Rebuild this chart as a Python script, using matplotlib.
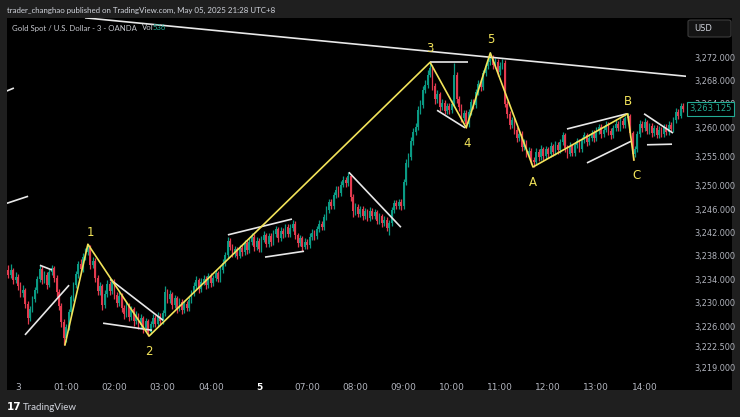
import matplotlib
matplotlib.use('Agg')
import matplotlib.pyplot as plt
import numpy as np
from matplotlib.patches import Rectangle, FancyBboxPatch
import matplotlib.transforms as mtransforms

# ---------------- data ----------------
first_open = 3235.6
closes = [
    3234.8, 3235.6, 3233.9, 3234.4, 3232.8, 3231.6, 3232.2, 3229.8, 3227.4, 3228.9,
    3230.6, 3232.1, 3234.0, 3235.8, 3233.9, 3234.8, 3233.1, 3235.2, 3236.0, 3234.3,
    3231.8, 3229.5, 3226.7, 3223.9, 3225.8, 3228.4, 3230.9, 3233.0, 3234.9, 3236.6,
    3235.8, 3237.9, 3238.7, 3239.4, 3236.5, 3237.2, 3234.3, 3232.0, 3232.8, 3229.6,
    3231.5, 3233.2, 3232.0, 3233.6, 3231.4, 3230.0, 3231.2, 3229.1, 3228.0, 3229.6,
    3227.6, 3228.9, 3226.8, 3227.9, 3226.2, 3227.4, 3225.6, 3226.8, 3225.0, 3226.3,
    3227.4, 3226.4, 3227.8, 3226.9, 3228.2, 3231.8, 3230.6, 3231.5, 3229.6, 3230.8,
    3229.0, 3230.2, 3228.7, 3229.8, 3229.1, 3230.4, 3231.6, 3232.8, 3233.9, 3232.4,
    3233.6, 3234.1, 3233.0, 3234.6, 3233.3, 3234.2, 3235.0, 3234.1, 3235.6, 3236.8,
    3238.1, 3240.6, 3239.6, 3238.4, 3239.1, 3238.0, 3239.3, 3238.6, 3240.2, 3239.0,
    3240.4, 3241.3, 3239.5, 3240.6, 3239.2, 3240.8, 3241.6, 3240.1, 3241.4, 3240.3,
    3241.8, 3242.6, 3241.0, 3242.3, 3241.7, 3242.9, 3241.8, 3242.8, 3243.5, 3241.5,
    3240.2, 3241.0, 3239.6, 3240.4, 3239.8, 3241.3, 3242.0, 3241.4, 3242.6, 3243.5,
    3243.0, 3244.6, 3245.9, 3247.2, 3246.6, 3248.4, 3249.3, 3248.7, 3250.2, 3251.0,
    3250.4, 3251.6, 3248.0, 3245.6, 3246.4, 3245.2, 3246.0, 3244.8, 3245.6, 3244.5,
    3245.7, 3244.9, 3245.5, 3244.0, 3244.8, 3243.6, 3244.2, 3242.8, 3243.6, 3245.8,
    3247.0, 3246.6, 3247.2, 3246.5, 3250.6, 3253.8, 3254.9, 3257.6, 3259.2, 3260.0,
    3262.9, 3263.8, 3266.4, 3267.2, 3269.0, 3270.2, 3267.0, 3264.8, 3265.6, 3263.4,
    3264.2, 3262.8, 3263.6, 3262.9, 3264.0, 3269.0, 3264.8, 3263.5, 3261.6, 3262.4,
    3260.6, 3262.6, 3264.3, 3263.8, 3266.0, 3267.4, 3266.8, 3269.2, 3270.4, 3271.2,
    3272.0, 3270.6, 3271.2, 3269.4, 3270.5, 3271.0, 3264.0, 3262.2, 3260.4, 3261.2,
    3259.5, 3258.2, 3258.9, 3256.6, 3257.4, 3255.6, 3256.0, 3254.4, 3254.0, 3255.8,
    3254.9, 3256.3, 3255.0, 3256.2, 3255.4, 3256.8, 3255.7, 3257.0, 3256.1, 3257.4,
    3258.6, 3256.4, 3255.5, 3256.8, 3255.6, 3256.9, 3257.6, 3256.3, 3257.8, 3258.6,
    3257.4, 3258.2, 3259.0, 3258.1, 3259.4, 3260.0, 3258.8, 3259.6, 3260.4, 3259.3,
    3258.6, 3259.8, 3260.6, 3259.9, 3261.0, 3260.4, 3261.5, 3262.0, 3259.0, 3255.5,
    3256.2, 3258.8, 3260.6, 3259.8, 3260.9, 3259.4, 3260.2, 3259.0, 3259.8, 3258.7,
    3259.6, 3258.9, 3260.0, 3259.2, 3260.4, 3259.7, 3261.2, 3262.6, 3262.0, 3263.6,
    3263.125,
]
highs = [
    3236.5, 3236.6, 3236.0, 3235.2, 3234.9, 3233.5, 3233.0, 3232.6, 3230.3, 3229.4,
    3231.2, 3232.7, 3234.6, 3236.5, 3236.2, 3235.4, 3235.2, 3235.8, 3236.5, 3236.3,
    3234.7, 3232.3, 3230.0, 3227.2, 3226.4, 3228.9, 3231.4, 3233.6, 3235.5, 3237.2,
    3237.4, 3238.5, 3239.3, 3240.0, 3239.8, 3237.9, 3237.6, 3234.8, 3233.5, 3233.2,
    3232.1, 3233.9, 3233.7, 3234.1, 3234.0, 3231.9, 3231.8, 3231.6, 3229.6, 3230.2,
    3230.0, 3229.5, 3229.3, 3228.5, 3228.3, 3228.0, 3227.8, 3227.4, 3227.2, 3226.9,
    3228.0, 3227.9, 3228.4, 3228.3, 3228.8, 3232.8, 3232.3, 3232.1, 3231.9, 3231.4,
    3231.2, 3230.8, 3230.6, 3230.4, 3230.3, 3231.0, 3232.2, 3233.5, 3234.5, 3234.3,
    3234.2, 3234.8, 3234.6, 3235.1, 3235.0, 3234.8, 3235.6, 3235.5, 3236.2, 3237.4,
    3238.6, 3241.3, 3241.1, 3240.1, 3239.7, 3239.6, 3239.9, 3239.8, 3240.8, 3240.7,
    3241.0, 3241.9, 3241.7, 3241.2, 3241.0, 3241.4, 3242.2, 3242.0, 3242.0, 3241.9,
    3242.4, 3243.2, 3243.0, 3242.9, 3242.8, 3243.5, 3243.4, 3243.4, 3244.2, 3243.9,
    3242.0, 3241.6, 3241.4, 3241.0, 3240.9, 3241.9, 3242.6, 3242.5, 3243.2, 3244.1,
    3244.0, 3245.2, 3246.5, 3247.8, 3247.8, 3249.0, 3249.9, 3249.9, 3250.8, 3251.6,
    3251.5, 3252.3, 3252.0, 3248.5, 3247.0, 3246.9, 3246.6, 3246.5, 3246.2, 3246.1,
    3246.3, 3246.2, 3246.1, 3245.9, 3245.4, 3245.2, 3244.8, 3244.6, 3244.2, 3246.3,
    3247.6, 3247.6, 3247.8, 3247.7, 3251.2, 3254.5, 3255.6, 3258.3, 3259.9, 3260.8,
    3263.6, 3264.6, 3267.1, 3268.0, 3269.8, 3271.1, 3270.7, 3267.5, 3266.3, 3266.0,
    3264.9, 3264.7, 3264.2, 3264.1, 3264.6, 3271.0, 3269.5, 3265.4, 3264.0, 3263.0,
    3262.9, 3263.2, 3264.9, 3264.9, 3266.6, 3268.0, 3268.0, 3269.8, 3271.0, 3271.8,
    3272.8, 3272.4, 3271.8, 3271.6, 3271.1, 3271.6, 3271.5, 3264.5, 3262.7, 3261.8,
    3261.6, 3260.0, 3259.5, 3259.3, 3258.0, 3257.8, 3256.6, 3256.4, 3254.9, 3256.4,
    3256.3, 3256.9, 3256.7, 3256.8, 3256.7, 3257.4, 3257.2, 3257.6, 3257.5, 3258.0,
    3259.2, 3259.0, 3256.9, 3257.4, 3257.2, 3257.5, 3258.2, 3258.0, 3258.4, 3259.2,
    3259.0, 3258.8, 3259.6, 3259.5, 3260.0, 3260.6, 3260.5, 3260.2, 3261.0, 3260.9,
    3259.8, 3260.4, 3261.2, 3261.1, 3261.6, 3261.5, 3262.0, 3262.4, 3262.3, 3259.4,
    3256.8, 3259.4, 3261.2, 3261.1, 3261.5, 3261.3, 3260.8, 3260.7, 3260.4, 3260.3,
    3260.2, 3260.1, 3260.6, 3260.5, 3261.0, 3260.9, 3261.8, 3263.3, 3263.2, 3264.2,
    3264.1,
]
lows = [
    3234.2, 3234.3, 3233.2, 3233.3, 3232.1, 3230.9, 3231.0, 3229.1, 3226.3, 3226.9,
    3228.4, 3230.1, 3231.6, 3233.6, 3233.2, 3233.4, 3232.4, 3232.7, 3234.7, 3233.6,
    3231.0, 3228.8, 3225.9, 3222.8, 3223.3, 3225.3, 3227.9, 3230.3, 3232.5, 3234.3,
    3235.1, 3235.3, 3237.3, 3238.1, 3235.8, 3236.0, 3233.6, 3231.3, 3231.4, 3228.8,
    3229.1, 3231.0, 3231.3, 3231.5, 3230.7, 3229.3, 3229.5, 3228.4, 3227.3, 3227.5,
    3226.9, 3227.1, 3226.1, 3226.3, 3225.5, 3225.7, 3224.9, 3225.1, 3224.3, 3224.6,
    3225.8, 3225.8, 3225.9, 3226.2, 3226.4, 3227.8, 3229.9, 3230.0, 3228.9, 3229.1,
    3228.3, 3228.5, 3228.1, 3228.2, 3228.5, 3228.6, 3229.9, 3231.1, 3232.3, 3231.7,
    3231.9, 3233.0, 3232.4, 3232.5, 3232.7, 3232.8, 3233.7, 3233.5, 3233.6, 3235.1,
    3236.3, 3237.7, 3239.0, 3237.8, 3237.9, 3237.5, 3237.6, 3238.0, 3238.1, 3238.4,
    3238.5, 3239.9, 3238.9, 3239.0, 3238.6, 3238.7, 3240.3, 3239.5, 3239.6, 3239.7,
    3239.8, 3241.3, 3240.4, 3240.5, 3241.1, 3241.2, 3241.2, 3241.3, 3242.3, 3240.9,
    3239.5, 3239.7, 3238.9, 3239.1, 3239.2, 3239.3, 3240.8, 3240.8, 3240.9, 3242.1,
    3242.4, 3242.5, 3244.1, 3245.4, 3246.0, 3246.1, 3247.9, 3248.1, 3248.2, 3249.7,
    3249.8, 3249.9, 3247.4, 3244.6, 3245.0, 3244.6, 3244.7, 3244.2, 3244.3, 3243.9,
    3244.0, 3244.3, 3244.3, 3243.4, 3243.5, 3243.0, 3243.1, 3242.2, 3241.6, 3243.2,
    3245.3, 3246.0, 3246.1, 3245.9, 3246.1, 3250.1, 3253.2, 3254.4, 3257.0, 3258.6,
    3259.5, 3262.3, 3263.3, 3265.8, 3266.7, 3268.5, 3266.3, 3264.0, 3264.2, 3262.7,
    3262.9, 3262.2, 3262.3, 3262.3, 3262.4, 3263.6, 3264.1, 3262.8, 3260.9, 3261.0,
    3259.8, 3260.1, 3262.1, 3263.2, 3263.3, 3265.5, 3266.2, 3266.3, 3268.7, 3269.9,
    3270.7, 3270.0, 3270.1, 3268.8, 3268.9, 3270.0, 3263.4, 3261.5, 3259.7, 3259.9,
    3258.8, 3257.5, 3257.7, 3255.9, 3256.1, 3254.9, 3255.1, 3253.7, 3253.2, 3253.6,
    3254.3, 3254.4, 3254.4, 3254.5, 3254.8, 3254.9, 3255.1, 3255.2, 3255.5, 3255.6,
    3256.9, 3255.7, 3254.8, 3255.0, 3255.0, 3255.1, 3256.4, 3255.7, 3255.8, 3257.3,
    3256.8, 3256.9, 3257.7, 3257.5, 3257.6, 3258.9, 3258.2, 3258.3, 3259.1, 3258.7,
    3258.0, 3258.1, 3259.3, 3259.3, 3259.4, 3259.8, 3259.9, 3261.0, 3258.4, 3254.4,
    3254.9, 3255.8, 3258.3, 3259.2, 3259.3, 3258.8, 3258.9, 3258.4, 3258.5, 3258.1,
    3258.2, 3258.3, 3258.4, 3258.6, 3258.7, 3259.1, 3259.2, 3260.7, 3261.4, 3261.5,
    3262.6,
]

# time axis: 3-minute bars, 20 bars per hour, first label sits on bar 4
time_labels = ['3', '01:00', '02:00', '03:00', '04:00', '5', '07:00', '08:00',
               '09:00', '10:00', '11:00', '12:00', '13:00', '14:00']
bars_per_hour = 20
first_label_bar = 4

price_ticks = [3219.0, 3222.5, 3226.0, 3230.0, 3234.0, 3238.0, 3242.0, 3246.0,
               3250.0, 3255.0, 3260.0, 3264.0, 3268.0, 3272.0]

# Elliott wave pivots (bar index, price)
wave_bars = [23.5, 33, 58.4, 175, 190, 200, 217.7, 257, 259.6]
wave_prices = [3222.8, 3240.0, 3224.3, 3271.1, 3259.9, 3272.7, 3253.2, 3262.3, 3254.4]
wave_names = ['', '1', '2', '3', '4', '5', 'A', 'B', 'C']
wave_label_offsets = [(0, 0), (1.5, 8.5), (0, -11), (0, 10), (1, -11), (0, 9.5), (0, -11), (0, 8.5), (1.5, -11.5)]

# white trend lines: (bar0, price0, bar1, price1)
white_lines = [
    (6.9, 3224.5, 25.2, 3233.0),
    (13.1, 3236.4, 18.1, 3235.6),
    (39.3, 3226.5, 59.6, 3225.3),
    (42.2, 3234.0, 64.2, 3227.0),
    (91.1, 3241.6, 117.7, 3244.3),
    (106.5, 3237.8, 122.7, 3238.8),
    (141.3, 3252.3, 162.9, 3242.9),
    (174.9, 3271.1, 190.7, 3271.1),
    (177.9, 3262.9, 189.5, 3259.9),
    (231.8, 3259.7, 256.7, 3262.3),
    (240.1, 3253.9, 258.4, 3257.6),
    (263.8, 3262.3, 275.8, 3259.0),
    (265.0, 3257.0, 275.4, 3257.1),
    (31.8, 3278.7, 281.5, 3268.7),
    (-0.6, 3266.2, 2.3, 3266.7),
    (-0.6, 3247.0, 8.2, 3248.2),
]

# ---------------- figure ----------------
W, H = 740, 417
fig = plt.figure(figsize=(W / 100, H / 100), dpi=100)
BG = '#1f1f1f'
fig.patch.set_facecolor(BG)

def fx(px):
    return px / W

def fy(py):
    return 1 - py / H

fig.patches.append(Rectangle((fx(7), fy(390)), fx(732) - fx(7), fy(18) - fy(390),
                             transform=fig.transFigure, facecolor='black',
                             edgecolor='none', zorder=-5))

ax = fig.add_axes([fx(7), fy(370), fx(686) - fx(7), fy(18) - fy(370)])
ax.set_zorder(2)
ax.set_facecolor('black')
for s in ax.spines.values():
    s.set_visible(False)

UP = '#0a9a84'
DN = '#e23a4e'

closes_a = np.array(closes)
opens_a = np.r_[first_open, closes_a[:-1]]
hi = np.maximum(np.array(highs), np.maximum(opens_a, closes_a))
lo = np.minimum(np.array(lows), np.minimum(opens_a, closes_a))
idx = np.arange(len(closes_a))
cols = np.where(closes_a >= opens_a, UP, DN)

ax.vlines(idx, lo, hi, colors=cols, linewidth=0.9, zorder=2)
body_bot = np.minimum(opens_a, closes_a)
body_h = np.maximum(np.abs(closes_a - opens_a), 0.12)
ax.bar(idx, body_h, bottom=body_bot, width=0.72, color=cols, linewidth=0, zorder=3)

# white lines
for b0, p0, b1, p1 in white_lines:
    ax.plot([b0, b1], [p0, p1], color='#e8e8e8', linewidth=1.2, zorder=4,
            solid_capstyle='butt')

# wave line
YEL = '#f2e35a'
ax.plot(wave_bars, wave_prices, color=YEL, linewidth=1.2, zorder=5)
for b, p, n, off in zip(wave_bars, wave_prices, wave_names, wave_label_offsets):
    if n:
        ax.annotate(n, xy=(b, p), xytext=off, textcoords='offset points',
                    ha='center', va='center', color=YEL, fontsize=8.5,
                    zorder=6)

ax.set_xlim(-0.56, 281.2)
ax.set_ylim(3218.5, 3278.67)

# axes ticks
ax.yaxis.tick_right()
ax.set_yticks(price_ticks)
ax.set_yticklabels([f"{v:,.3f}" for v in price_ticks])
ax.tick_params(axis='y', length=0, pad=6, labelsize=5.9, labelcolor='#b2b5be')
tpos = [first_label_bar + bars_per_hour * k for k in range(len(time_labels))]
ax.set_xticks(tpos)
ax.set_xticklabels(time_labels)
ax.tick_params(axis='x', length=0, pad=9, labelsize=6.5, labelcolor='#b2b5be')
for t in ax.get_xticklabels():
    if t.get_text() == '5':
        t.set_fontweight('bold')
        t.set_color('#ffffff')

# last price tag (partly covers the 3,264 tick label, as in the original)
last = closes[-1]
trans = mtransforms.blended_transform_factory(ax.transAxes, ax.transData)
ax.text(1.0 + 3 / 679, last, f"{last:,.3f}", transform=trans, ha='left', va='center',
        fontsize=6.0, color='#22ab94',
        bbox=dict(boxstyle='square,pad=0.28', fc='black', ec='#22ab94', lw=0.8),
        zorder=10, clip_on=False)

# USD box
fig.patches.append(FancyBboxPatch((fx(688), fy(37)), fx(731) - fx(688), fy(20) - fy(37),
                                  boxstyle='round,pad=0,rounding_size=0.004',
                                  transform=fig.transFigure, facecolor='#141414',
                                  edgecolor='#3c3c3c', linewidth=0.8, zorder=1))
fig.text(fx(694), fy(28.5), 'USD', color='#d1d4dc', fontsize=6, ha='left', va='center')

# header / legend texts
fig.text(fx(7), fy(10), 'trader_changhao published on TradingView.com, May 05, 2025 21:28 UTC+8',
         color='#d1d4dc', fontsize=5.7, ha='left', va='center', family='Lato')
fig.text(fx(12), fy(28), 'Gold Spot / U.S. Dollar - 3 - OANDA', color='#c8cad0',
         fontsize=5.6, ha='left', va='center', family='Lato', zorder=5)
fig.text(fx(142), fy(28), 'Vol', color='#c8cad0', fontsize=5.6, ha='left', va='center',
         family='Lato', zorder=5)
fig.text(fx(153), fy(28), '536', color='#22ab94', fontsize=5.6, ha='left', va='center',
         family='Lato', zorder=5)

# footer
fig.text(fx(7), fy(407), '17', color='#ffffff', fontsize=7.5, fontweight='bold',
         ha='left', va='center', family='DejaVu Sans')
fig.text(fx(23), fy(407), 'TradingView', color='#d1d4dc', fontsize=7, ha='left',
         va='center', family='Lato')

fig.savefig('out.png', dpi=100, facecolor=fig.get_facecolor())
